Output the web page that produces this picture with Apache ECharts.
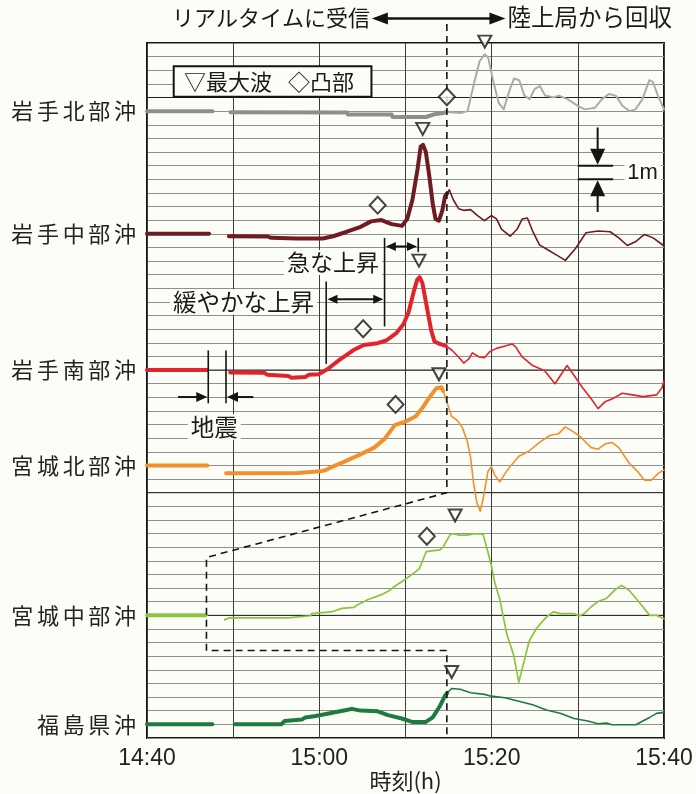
<!DOCTYPE html>
<html>
<head>
<meta charset="utf-8">
<script src="https://cdn.jsdelivr.net/npm/echarts@6/dist/echarts.min.js"></script>
<style>
  html, body { margin: 0; padding: 0; background: #fdfdf8; }
  #chart { width: 696px; height: 794px; }
</style>
</head>
<body>
<div id="chart"></div>
<script>
// GPS buoy sea-level records, 14:40–15:40.
// x: minutes after 14:40, y: metres; every station is drawn on its own baseline.

const timeTickLabels = ['14:40', '15:00', '15:20', '15:40'];
const stationNames = ['岩手北部沖', '岩手中部沖', '岩手南部沖', '宮城北部沖', '宮城中部沖', '福島県沖'];
const stationBaselines = [46, 37, 27, 20, 9, 1];
const heavyGridLevels = [47, 27, 18, 9];

// 岩手北部沖 (null = gap after the earthquake)
const iwateNorthLive = [[0,46],[7.6,46],null,[9.7,45.92],[23.2,45.9],[23.3,45.75],[28.4,45.75],[28.5,45.57],[32.4,45.57],[33.2,45.75],[34.4,45.87],[34.8,45.95]];
const iwateNorthRecovered = [[34.8,45.95],[35.2,45.92],[36.4,45.87],[37.2,46.0],[38.0,48.15],[38.6,49.66],[39.2,50.17],[39.6,49.92],[40.2,48.15],[40.8,46.63],[41.4,46.13],[42.0,47.39],[42.6,48.4],[43.2,48.27],[43.8,47.14],[44.4,46.88],[45.0,47.64],[45.6,47.84],[46.2,47.14],[47.2,47.01],[47.8,47.14],[48.8,46.88],[50.0,46.38],[50.8,46.13],[52.0,46.25],[52.8,46.88],[53.6,47.26],[54.4,47.14],[55.2,46.38],[56.0,46.0],[56.7,46.13],[57.5,46.88],[58.3,48.27],[58.7,48.15],[59.3,47.14],[60.0,46.13]];

// 岩手中部沖
const iwateMidLive = [[0,37],[7.2,37],null,[9.5,36.82],[14.0,36.8],[14.4,36.7],[17.4,36.65],[20.4,36.65],[21.6,36.82],[23.2,37.15],[24.8,37.51],[26.0,37.91],[27.2,38.01],[28.4,37.71],[29.6,37.58],[30.2,38.09],[30.8,39.48],[31.4,41.75],[31.76,43.39],[32.04,43.52],[32.36,43.01],[32.76,41.24],[33.16,39.22],[33.48,38.09],[33.88,37.96],[34.28,38.72],[34.6,39.78],[34.84,39.98]];
const iwateMidRecovered = [[34.84,39.98],[35.08,40.23],[35.56,39.48],[36.16,38.84],[36.76,38.72],[37.56,38.77],[38.36,38.34],[39.16,37.96],[39.96,38.34],[40.56,38.09],[41.16,37.33],[42.15,36.82],[42.95,37.33],[43.55,38.09],[44.15,38.16],[44.75,37.2],[45.55,36.19],[46.55,35.81],[47.55,35.43],[48.55,35.05],[49.75,35.94],[50.95,37.08],[52.35,37.2],[53.75,37.15],[54.75,36.7],[55.75,36.14],[56.74,36.44],[57.74,36.95],[58.74,36.7],[59.94,36.14]];

// 岩手南部沖
const iwateSouthLive = [[0,27],[7.0,27],null,[9.66,26.82],[13.58,26.8],[13.98,26.65],[16.37,26.57],[16.77,26.44],[18.37,26.49],[18.77,26.65],[19.97,26.7],[20.97,27.08],[22.37,27.76],[23.97,28.47],[25.17,28.84],[26.77,28.97],[27.77,29.17],[28.97,29.73],[29.76,30.36],[30.36,31.24],[30.96,32.76],[31.36,33.64],[31.64,33.82],[31.96,33.39],[32.44,31.75],[32.96,29.98],[33.36,29.1],[33.96,28.92],[34.68,28.77]];
const iwateSouthRecovered = [[34.68,28.77],[35.36,28.47],[36.16,27.96],[36.76,27.51],[37.36,27.83],[37.76,28.26],[38.56,27.96],[39.16,27.91],[39.76,28.34],[40.56,28.59],[41.56,28.77],[42.36,28.92],[42.76,28.72],[43.55,27.96],[44.75,27.33],[46.15,26.95],[47.35,26.0],[48.75,27.33],[49.35,26.8],[50.55,25.7],[51.55,24.9],[52.35,24.17],[53.15,24.67],[53.95,24.87],[55.15,25.3],[56.35,25.18],[57.55,25.05],[59.15,25.18],[59.75,25.68],[60.0,26.19]];

// 宮城北部沖
const miyagiNorthLive = [[0,20],[7.0,20],null,[9.18,19.42],[17.5,19.45],[17.6,19.55],[20.4,19.6],[20.77,19.67],[21.57,19.92],[23.17,20.35],[24.77,20.81],[26.37,21.31],[27.57,21.95],[28.77,22.96],[29.96,23.21],[31.16,23.59],[31.96,24.22],[32.76,24.98],[33.56,25.66],[34.16,25.74],[34.36,25.48]];
const miyagiNorthRecovered = [[34.36,25.48],[34.76,24.73],[35.36,23.59],[35.96,23.34],[36.56,22.83],[37.16,21.82],[37.56,20.56],[37.88,18.79],[38.28,17.27],[38.68,16.64],[39.08,17.78],[39.56,19.55],[39.96,19.92],[40.36,19.29],[40.96,18.79],[41.56,19.42],[42.15,19.92],[43.16,20.68],[44.35,21.06],[45.55,21.69],[46.75,22.2],[47.75,22.32],[48.55,22.83],[49.55,22.45],[50.35,22.07],[51.55,21.31],[52.35,21.19],[53.15,21.57],[53.95,21.69],[54.75,21.31],[55.95,20.18],[56.94,19.55],[57.74,18.91],[58.54,18.91],[59.34,19.42],[60.0,19.67]];

// 宮城中部沖
const miyagiMidLive = [[0,9],[6.8,9]];
const miyagiMidRecovered = [[9.0,8.67],[9.58,8.82],[16.37,8.82],[16.4,8.92],[19.0,8.97],[19.1,9.13],[20.0,9.18],[21.4,9.25],[22.6,9.51],[24.0,9.58],[24.4,9.76],[25.6,10.14],[27.2,10.52],[28.0,10.77],[28.8,11.15],[30.0,11.65],[30.8,12.03],[31.6,12.41],[32.4,13.67],[34.0,13.8],[34.4,14.05],[35.2,14.94],[35.6,14.99],[36.2,14.89],[37.2,14.89],[38.0,14.99],[39.0,14.95],[39.16,14.81],[39.56,13.67],[39.96,12.66],[40.36,11.4],[40.96,10.14],[41.36,8.87],[41.76,7.61],[42.55,6.1],[43.15,4.1],[43.75,5.6],[44.35,7.1],[45.15,8.0],[45.55,8.3],[46.35,8.87],[47.15,9.25],[47.95,9.13],[48.75,9.13],[49.55,9.13],[50.15,8.95],[50.75,9.13],[51.55,9.63],[52.35,10.01],[53.35,10.26],[54.35,10.89],[55.06,11.2],[55.95,10.84],[56.74,10.26],[57.54,9.63],[58.34,9.0],[59.14,9.0],[60.0,8.75]];

// 福島県沖
const fukushimaLive = [[0,1],[7.58,1],null,[10.18,1],[15.58,1],[15.98,1.25],[17.97,1.35],[18.37,1.51],[19.57,1.61],[20.77,1.76],[21.97,1.91],[23.17,2.06],[23.77,2.14],[24.77,2.01],[26.77,1.96],[27.97,1.68],[29.56,1.43],[30.76,1.18],[32.36,1.18],[33.16,1.51],[33.96,2.31],[34.56,3.07],[34.84,3.32]];
const fukushimaRecovered = [[34.84,3.32],[35.36,3.63],[36.36,3.58],[37.56,3.32],[39.16,3.2],[39.96,3.07],[41.55,2.95],[43.15,2.69],[44.75,2.44],[46.35,2.06],[47.95,1.81],[49.55,1.43],[51.15,1.25],[52.35,1.05],[53.35,1.1],[53.95,0.97],[56.74,0.97],[57.54,1.25],[58.34,1.51],[59.14,1.81],[60.0,1.88]];

// ▽ maximum wave, ◇ convex part
const peakMarks = [[39.2,51.1],[32.0,44.7],[31.56,35.03],[33.88,26.69],[35.76,16.33],[35.36,4.84]];
const bumpMarks = [[34.8,47.05],[26.77,39.1],[25.09,30.03],[28.85,24.48],[32.48,14.81]];

// boundary between real-time reception and data recovered from the shore station
const receptionBoundary = [[34.8,52.4],[34.8,18.0],[6.9,13.25],[6.9,6.42],[34.8,6.42],[34.8,0]];

const PAPER = '#fdfdf8';
const INK = '#141414';
const JP = '"Noto Sans CJK JP", "Noto Sans CJK SC", sans-serif';
const LATIN = '"Liberation Sans", Arial, sans-serif';

const stationStyles = [
  { live: iwateNorthLive, rec: iwateNorthRecovered, liveColor: '#8e8e8e', recColor: '#ababab', recWidth: 2 },
  { live: iwateMidLive, rec: iwateMidRecovered, liveColor: '#6e1b22', recColor: '#6e1b22', recWidth: 1.6 },
  { live: iwateSouthLive, rec: iwateSouthRecovered, liveColor: '#e2232b', recColor: '#e2232b', recWidth: 1.6 },
  { live: miyagiNorthLive, rec: miyagiNorthRecovered, liveColor: '#f2902c', recColor: '#f2902c', recWidth: 1.6 },
  { live: miyagiMidLive, rec: miyagiMidRecovered, liveColor: '#8cc43f', recColor: '#8cc43f', recWidth: 1.7 },
  { live: fukushimaLive, rec: fukushimaRecovered, liveColor: '#1f7a40', recColor: '#1f7a40', recWidth: 1.6 }
];

function splitAtNulls(points) {
  const out = [];
  let cur = [];
  points.forEach(p => {
    if (p === null) { if (cur.length) out.push(cur); cur = []; }
    else cur.push(p);
  });
  if (cur.length) out.push(cur);
  return out;
}

function lineSeries(points, color, width, z) {
  return splitAtNulls(points).map(seg => ({
    type: 'line', data: seg, symbol: 'none', showSymbol: false, silent: true,
    animation: false, z: z,
    lineStyle: { color: color, width: width, cap: 'round', join: 'round' }
  }));
}

const series = [];
heavyGridLevels.forEach(level => {
  series.push({
    type: 'line', data: [[0, level], [60, level]], symbol: 'none', silent: true,
    animation: false, z: 1, lineStyle: { color: '#1e1e1e', width: 1 }
  });
});
stationStyles.forEach(s => {
  series.push(...lineSeries(s.rec, s.recColor, s.recWidth, 3));
  series.push(...lineSeries(s.live, s.liveColor, 4, 4));
});
series.push({
  type: 'line', data: receptionBoundary, symbol: 'none', silent: true, clip: false,
  animation: false, z: 5, lineStyle: { color: INK, width: 1.6, type: [7, 5] }
});
series.push({
  type: 'scatter', data: peakMarks, symbol: 'triangle', symbolRotate: 180,
  symbolSize: [13, 12], clip: false, silent: true, animation: false, z: 8,
  itemStyle: { color: PAPER, borderColor: INK, borderWidth: 2 }
});
series.push({
  type: 'scatter', data: bumpMarks, symbol: 'diamond',
  symbolSize: [16, 17], clip: false, silent: true, animation: false, z: 8,
  itemStyle: { color: PAPER, borderColor: INK, borderWidth: 2 }
});

const chart = echarts.init(document.getElementById('chart'), null, { renderer: 'canvas' });

chart.setOption({
  backgroundColor: PAPER,
  animation: false,
  grid: {
    left: 147, right: 32, top: 43, bottom: 56,
    show: true, borderColor: INK, borderWidth: 2, backgroundColor: 'transparent',
    containLabel: false, outerBoundsMode: 'none'
  },
  xAxis: {
    type: 'value', min: 0, max: 60, interval: 10,
    axisLine: { show: false }, axisTick: { show: false },
    splitLine: { show: true, lineStyle: { color: '#3c3c3c', width: 1 } },
    axisLabel: {
      formatter: v => (v % 20 === 0 ? timeTickLabels[v / 20] : ''),
      fontFamily: LATIN, fontSize: 23, color: '#222', margin: 9
    },
    name: '時刻(h)', nameLocation: 'middle', nameGap: 43, nameMoveOverlap: false,
    nameTextStyle: { fontFamily: JP, fontSize: 22, color: '#222', verticalAlign: 'middle' }
  },
  yAxis: {
    type: 'value', min: 0, max: 51, interval: 1,
    axisLine: { show: false }, axisTick: { show: false },
    splitLine: { show: true, lineStyle: { color: '#8f8f8f', width: 1 } },
    axisLabel: {
      customValues: stationBaselines,
      formatter: v => {
        const i = stationBaselines.indexOf(v);
        return i < 0 ? '' : stationNames[i].split('').join('\u2006');
      },
      fontFamily: JP, fontSize: 22, color: '#222', margin: 11
    }
  },
  series: series
});

// annotation anchors, in axis units (minutes, metres)
const notes = {
  topArrow: { from: 26.1, to: 41.6, level: 52.8 },
  legendBox: { t0: 3.1, t1: 26.05, vTop: 49.3, vBottom: 47.05, textT: 4.3 },
  scale: { t0: 50.0, t1: 54.1, tArrow: 52.3, upper: 42.0, lower: 41.0, top: 44.8, bottom: 38.6, textT: 55.4 },
  gentle: { tLine: 20.8, lineTop: 33.5, lineBottom: 27.45, arrowTo: 27.57, arrowLevel: 32.2, textT: 11.2, textV: 32.0 },
  steep: { tLine: 27.57, lineTop: 36.7, lineBottom: 30.2, tEnd: 31.48, endBottom: 35.65, arrowLevel: 36.07, textT: 21.6, textV: 34.9 },
  quake: { t0: 7.11, t1: 9.17, top: 28.44, bottom: 24.56, arrowLevel: 25.02, leftTail: 3.6, rightTail: 12.34, textT: 7.8, textV: 22.82 }
};

function drawNotes() {
  const P = (t, v) => chart.convertToPixel({ gridIndex: 0 }, [t, v]);
  const g = [];
  const seg = (a, b, w) => g.push({
    type: 'line', silent: true, z: 120,
    shape: { x1: a[0], y1: a[1], x2: b[0], y2: b[1] }, style: { stroke: INK, lineWidth: w }
  });
  const head = (tip, dir, len, half) => {
    const bx = tip[0] - dir[0] * len, by = tip[1] - dir[1] * len;
    g.push({
      type: 'polygon', silent: true, z: 121,
      shape: { points: [[tip[0], tip[1]], [bx - dir[1] * half, by + dir[0] * half], [bx + dir[1] * half, by - dir[0] * half]] },
      style: { fill: INK }
    });
  };
  const text = (str, p, align, font, bg) => g.push({
    type: 'text', silent: true, z: 110, x: p[0], y: p[1],
    style: {
      text: str, font: font, fill: '#1a1a1a', align: align, verticalAlign: 'middle',
      backgroundColor: bg ? PAPER : 'transparent', padding: bg ? [1, 3, 1, 3] : 0
    }
  });
  const dbl = (a, b, w, len, half) => {
    seg([a[0] + len * 0.5, a[1]], [b[0] - len * 0.5, b[1]], w);
    head(a, [-1, 0], len, half);
    head(b, [1, 0], len, half);
  };

  // real-time / recovered header
  const ta = notes.topArrow;
  const aL = P(ta.from, ta.level), aR = P(ta.to, ta.level);
  dbl(aL, aR, 2.4, 16, 6);
  text('リアルタイムに受信', [aL[0] - 2, aL[1] - 1], 'right', '22px ' + JP, false);
  text('陸上局から回収', [aR[0] + 2, aR[1] - 1], 'left', '23.5px ' + JP, false);

  // legend box
  const lb = notes.legendBox;
  const b0 = P(lb.t0, lb.vTop), b1 = P(lb.t1, lb.vBottom);
  g.push({
    type: 'rect', silent: true, z: 105,
    shape: { x: b0[0], y: b0[1], width: b1[0] - b0[0], height: b1[1] - b0[1] },
    style: { fill: PAPER, stroke: INK, lineWidth: 2 }
  });
  text('▽最大波\u2002 ◇凸部', [P(lb.textT, 0)[0], (b0[1] + b1[1]) / 2], 'left', '22px ' + JP, false);

  // 1 m scale
  const sc = notes.scale;
  const up0 = P(sc.t0, sc.upper), up1 = P(sc.t1, sc.upper);
  const lo0 = P(sc.t0, sc.lower), lo1 = P(sc.t1, sc.lower);
  const xa = P(sc.tArrow, 0)[0];
  text('1m', [P(sc.textT, 0)[0], P(0, (sc.upper + sc.lower) / 2)[1]], 'left', '22px ' + LATIN, true);
  seg(up0, up1, 2);
  seg(lo0, lo1, 2);
  seg([xa, P(0, sc.top)[1]], [xa, up0[1] - 12], 2);
  head([xa, up0[1] - 1], [0, 1], 16, 7.5);
  seg([xa, P(0, sc.bottom)[1]], [xa, lo0[1] + 12], 2);
  head([xa, lo0[1] + 1], [0, -1], 16, 7.5);

  // gradual rise
  const ge = notes.gentle;
  seg(P(ge.tLine, ge.lineTop), P(ge.tLine, ge.lineBottom), 1.6);
  dbl(P(ge.tLine + 0.15, ge.arrowLevel), P(ge.arrowTo - 0.15, ge.arrowLevel), 2, 10, 4.5);
  text('緩やかな上昇', P(ge.textT, ge.textV), 'center', '23.5px ' + JP, true);

  // steep rise
  const st = notes.steep;
  seg(P(st.tLine, st.lineTop), P(st.tLine, st.lineBottom), 1.6);
  seg(P(st.tEnd, st.lineTop), P(st.tEnd, st.endBottom), 1.6);
  dbl(P(st.tLine + 0.15, st.arrowLevel), P(st.tEnd - 0.15, st.arrowLevel), 2, 10, 4.5);
  text('急な上昇', P(st.textT, st.textV), 'center', '23px ' + JP, true);

  // earthquake gap
  const qk = notes.quake;
  seg(P(qk.t0, qk.top), P(qk.t0, qk.bottom), 1.6);
  seg(P(qk.t1, qk.top), P(qk.t1, qk.bottom), 1.6);
  const l0 = P(qk.leftTail, qk.arrowLevel), l1 = P(qk.t0, qk.arrowLevel);
  seg(l0, [l1[0] - 8, l1[1]], 2);
  head([l1[0] - 1, l1[1]], [1, 0], 11, 5);
  const r0 = P(qk.rightTail, qk.arrowLevel), r1 = P(qk.t1, qk.arrowLevel);
  seg(r0, [r1[0] + 8, r1[1]], 2);
  head([r1[0] + 1, r1[1]], [-1, 0], 11, 5);
  text('地震', P(qk.textT, qk.textV), 'center', '23.5px ' + JP, true);

  chart.setOption({ graphic: { elements: g } });
}

drawNotes();
</script>
</body>
</html>
